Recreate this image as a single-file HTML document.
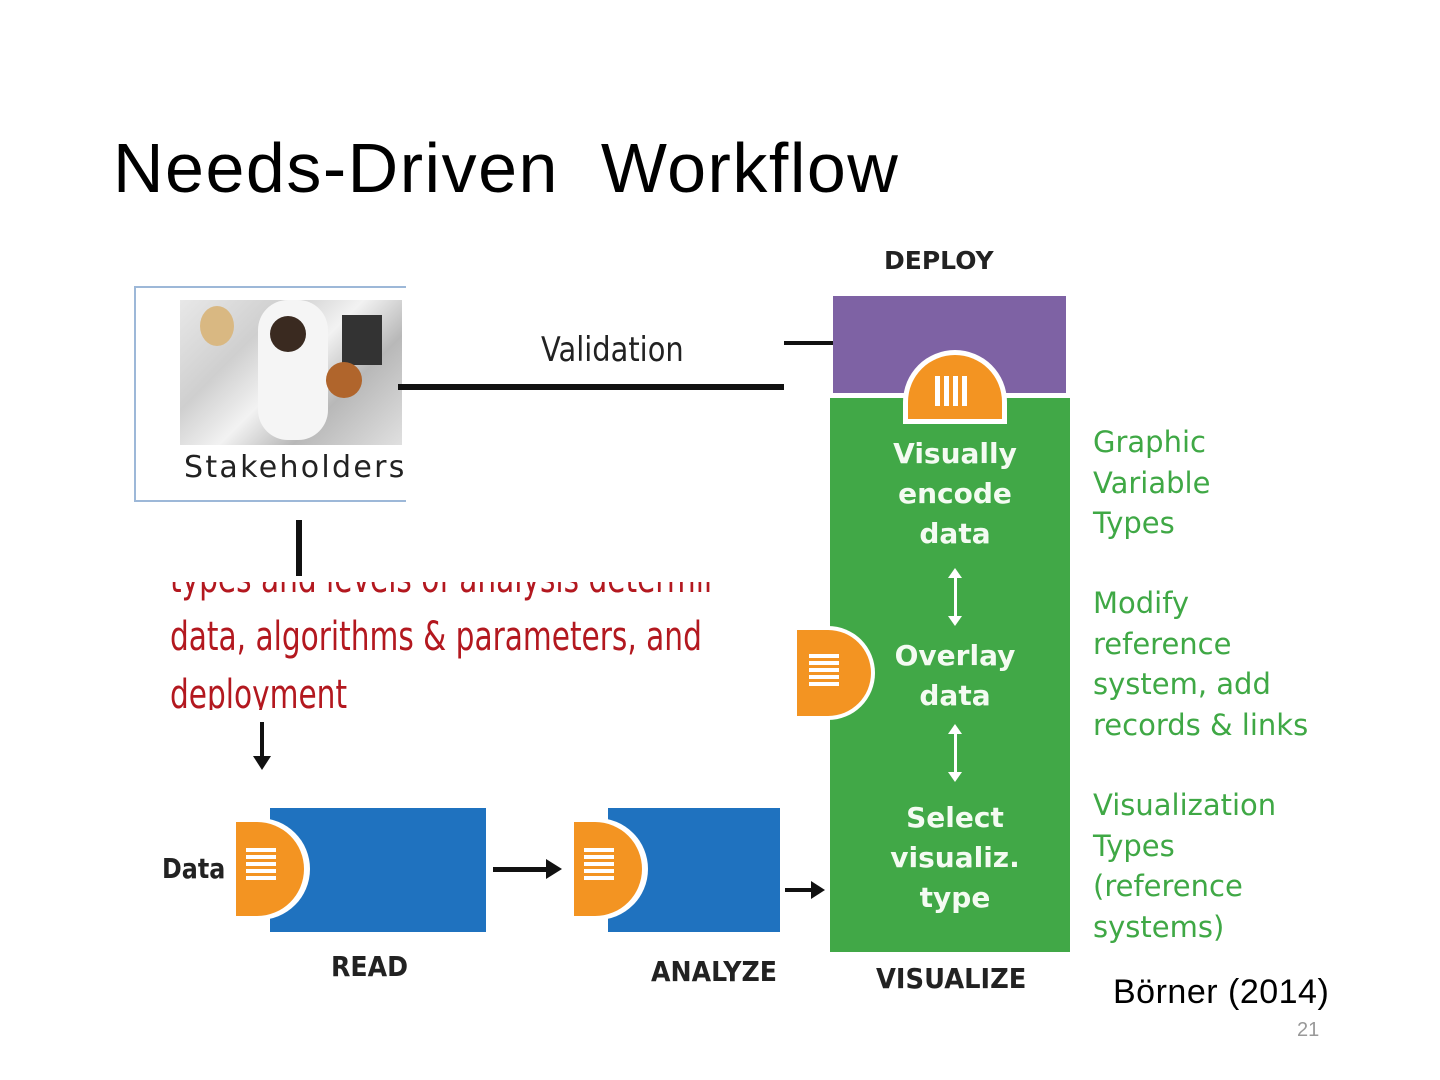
<!DOCTYPE html>
<html><head><meta charset="utf-8"><style>
body{margin:0;width:1440px;height:1080px;background:#fff;position:relative;overflow:hidden;font-family:"Liberation Sans",sans-serif}
.a{position:absolute}
.c{font-family:"DejaVu Sans","Liberation Sans",sans-serif}
.w{color:#f4fbf2;font-weight:bold;font-size:28px;text-align:center;line-height:40px}
.g{color:#3fa845;font-size:29px;line-height:40.5px}
.stripe{background:#fff;height:4px;width:30px;margin:0 0 3px 0}
</style></head><body>
<div class="a" style="left:113px;top:128px;font-size:70px;color:#000;letter-spacing:1.5px">Needs-Driven&nbsp; Workflow</div>

<!-- stakeholders -->
<div class="a" style="left:134px;top:286px;width:270px;height:212px;border:2px solid #9db8d8;border-right:none;background:#fff"></div>
<div class="a" style="left:180px;top:300px;width:222px;height:145px;background:linear-gradient(135deg,#e8e8e8 0%,#cfcfcf 30%,#f2f2f2 50%,#b8b8b8 70%,#e0e0e0 100%)"></div>
<div class="a" style="left:258px;top:300px;width:70px;height:140px;background:#f5f5f5;border-radius:30px"></div>
<div class="a" style="left:342px;top:315px;width:40px;height:50px;background:#333"></div>
<div class="a" style="left:270px;top:316px;width:36px;height:36px;background:#3a2a20;border-radius:50%"></div>
<div class="a" style="left:326px;top:362px;width:36px;height:36px;background:#b0652c;border-radius:50%"></div>
<div class="a" style="left:200px;top:306px;width:34px;height:40px;background:#d9b882;border-radius:50%"></div>
<div class="a c" style="left:184px;top:450px;font-size:30px;color:#222;width:220px;overflow:hidden;white-space:nowrap;letter-spacing:2.3px">Stakeholders</div>

<div class="a c" style="left:541px;top:330px;font-size:34px;color:#222;transform:scaleX(.85);transform-origin:left">Validation</div>
<div class="a" style="left:398px;top:384px;width:386px;height:6px;background:#111"></div>
<div class="a" style="left:784px;top:341px;width:50px;height:4px;background:#111"></div>
<div class="a" style="left:296px;top:520px;width:6px;height:56px;background:#111"></div>

<div class="a" style="left:170px;top:582px;width:540px;height:128px;overflow:hidden">
<div class="a c" style="left:0;top:-32px;font-size:40px;color:#b3181f;line-height:58px;white-space:nowrap;transform:scaleX(.74);transform-origin:left">types and levels of analysis determine<br>data, algorithms &amp; parameters, and<br>deployment</div></div>

<!-- down arrow -->
<div class="a" style="left:260px;top:722px;width:4px;height:40px;background:#111"></div>
<div class="a" style="left:253px;top:756px;border-left:9px solid transparent;border-right:9px solid transparent;border-top:14px solid #111"></div>

<!-- READ -->
<div class="a" style="left:270px;top:808px;width:216px;height:124px;background:#1f72bf"></div>
<div class="a" style="left:230px;top:818px;width:80px;height:102px;background:#fff;border-radius:0 52px 52px 0"></div>
<div class="a" style="left:236px;top:822px;width:68px;height:94px;background:#f39422;border-radius:0 48px 48px 0;padding:26px 0 0 10px;box-sizing:border-box"><div class="stripe"></div><div class="stripe"></div><div class="stripe"></div><div class="stripe"></div><div class="stripe"></div></div>
<div class="a c" style="left:162px;top:852px;font-size:28px;font-weight:bold;color:#222;transform:scaleX(.85);transform-origin:left">Data</div>
<div class="a c" style="left:331px;top:950px;font-size:28px;font-weight:bold;color:#222;transform:scaleX(.9);transform-origin:left">READ</div>
<div class="a" style="left:493px;top:867px;width:56px;height:5px;background:#111"></div>
<div class="a" style="left:546px;top:859px;border-top:10px solid transparent;border-bottom:10px solid transparent;border-left:16px solid #111"></div>

<!-- ANALYZE -->
<div class="a" style="left:608px;top:808px;width:172px;height:124px;background:#1f72bf"></div>
<div class="a" style="left:568px;top:818px;width:80px;height:102px;background:#fff;border-radius:0 52px 52px 0"></div>
<div class="a" style="left:574px;top:822px;width:68px;height:94px;background:#f39422;border-radius:0 48px 48px 0;padding:26px 0 0 10px;box-sizing:border-box"><div class="stripe"></div><div class="stripe"></div><div class="stripe"></div><div class="stripe"></div><div class="stripe"></div></div>
<div class="a c" style="left:651px;top:955px;font-size:28px;font-weight:bold;color:#222;width:143px;overflow:hidden;white-space:nowrap;transform:scaleX(.9);transform-origin:left">ANALYZE</div>
<div class="a" style="left:785px;top:888px;width:28px;height:4px;background:#111"></div>
<div class="a" style="left:811px;top:881px;border-top:9px solid transparent;border-bottom:9px solid transparent;border-left:14px solid #111"></div>

<!-- DEPLOY / VISUALIZE -->
<div class="a c" style="left:884px;top:246px;font-size:25px;font-weight:bold;color:#222">DEPLOY</div>
<div class="a" style="left:833px;top:296px;width:233px;height:97px;background:#7e62a4"></div>
<div class="a" style="left:830px;top:398px;width:240px;height:554px;background:#41a847"></div>
<div class="a" style="left:903px;top:350px;width:104px;height:74px;background:#fff;border-radius:52px 52px 0 0"></div>
<div class="a" style="left:908px;top:355px;width:94px;height:64px;background:#f39422;border-radius:47px 47px 0 0"></div>
<div class="a" style="left:935px;top:376px;width:5px;height:30px;background:#fff"></div>
<div class="a" style="left:944px;top:376px;width:5px;height:30px;background:#fff"></div>
<div class="a" style="left:953px;top:376px;width:5px;height:30px;background:#fff"></div>
<div class="a" style="left:962px;top:376px;width:5px;height:30px;background:#fff"></div>
<div class="a" style="left:793px;top:626px;width:82px;height:94px;background:#fff;border-radius:0 47px 47px 0"></div>
<div class="a" style="left:797px;top:630px;width:74px;height:86px;background:#f39422;border-radius:0 43px 43px 0;padding:24px 0 0 12px;box-sizing:border-box"><div class="stripe"></div><div class="stripe"></div><div class="stripe"></div><div class="stripe"></div><div class="stripe"></div></div>

<div class="a c w" style="left:870px;top:434px;width:170px">Visually<br>encode<br>data</div>
<div class="a c w" style="left:870px;top:636px;width:170px">Overlay<br>data</div>
<div class="a c w" style="left:870px;top:798px;width:170px">Select<br>visualiz.<br>type</div>
<div class="a" style="left:954px;top:574px;width:3px;height:46px;background:#fff"></div>
<div class="a" style="left:948px;top:568px;border-left:7px solid transparent;border-right:7px solid transparent;border-bottom:10px solid #fff"></div>
<div class="a" style="left:948px;top:616px;border-left:7px solid transparent;border-right:7px solid transparent;border-top:10px solid #fff"></div>
<div class="a" style="left:954px;top:730px;width:3px;height:46px;background:#fff"></div>
<div class="a" style="left:948px;top:724px;border-left:7px solid transparent;border-right:7px solid transparent;border-bottom:10px solid #fff"></div>
<div class="a" style="left:948px;top:772px;border-left:7px solid transparent;border-right:7px solid transparent;border-top:10px solid #fff"></div>
<div class="a c" style="left:876px;top:962px;font-size:28px;font-weight:bold;color:#222;transform:scaleX(.92);transform-origin:left">VISUALIZE</div>

<div class="a c g" style="left:1093px;top:422px">Graphic<br>Variable<br>Types</div>
<div class="a c g" style="left:1093px;top:583px">Modify<br>reference<br>system, add<br>records &amp; links</div>
<div class="a c g" style="left:1093px;top:785px">Visualization<br>Types<br>(reference<br>systems)</div>

<div class="a" style="left:1113px;top:973px;font-size:34px;color:#000;letter-spacing:0.5px">Börner (2014)</div>
<div class="a" style="left:1297px;top:1019px;font-size:20px;color:#999">21</div>
</body></html>
